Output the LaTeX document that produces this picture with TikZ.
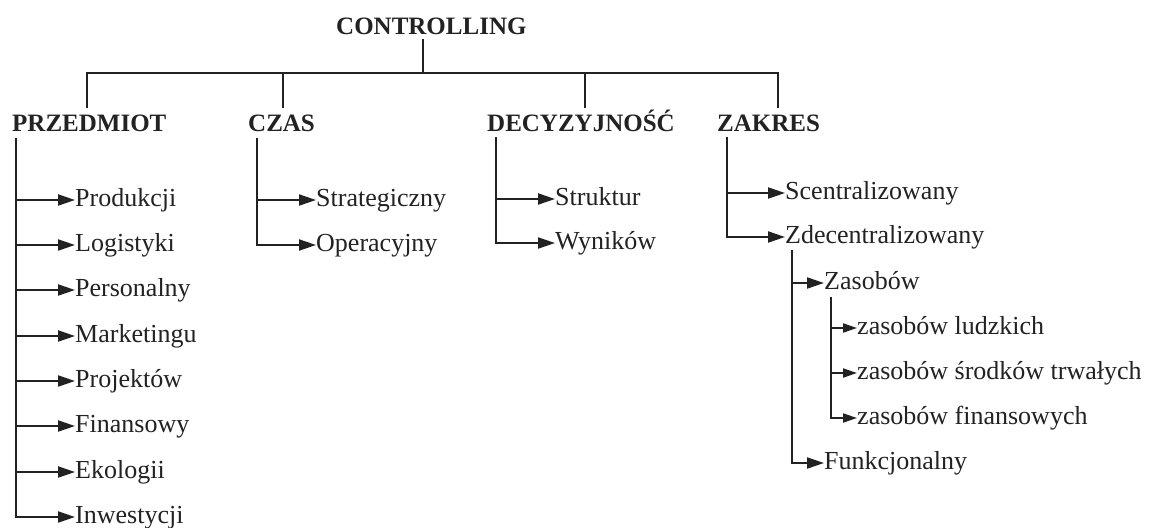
\documentclass[tikz,border=0pt]{standalone}
\usepackage{fontspec}
\setmainfont{Liberation Serif}
\usetikzlibrary{arrows.meta}
\definecolor{ink}{HTML}{222222}
\begin{document}
\begin{tikzpicture}[x=1pt,y=-1pt,
  line/.style={draw=ink, line width=2pt},
  arr/.style={line, -{Triangle[length=17pt,width=11pt]}},
  sarr/.style={line, -{Triangle[length=14pt,width=9pt]}},
  head/.style={font=\fontsize{25}{30}\selectfont\bfseries, text=ink, inner sep=0pt, anchor=base west},
  item/.style={font=\fontsize{26}{30}\selectfont, text=ink, inner sep=0pt, anchor=base west},
]
\fill[white] (0,0) rectangle (1150,527);
\useasboundingbox (0,0) rectangle (1150,527);

% headings
\node[head] (ctrl) at (336,35) {CONTROLLING};
\node[head] (prz) at (12,131) {PRZEDMIOT};
\node[head] (czas) at (248,131) {CZAS};
\node[head] (dec) at (487,131) {DECYZYJNOŚĆ};
\node[head] (zak) at (717,131) {ZAKRES};

% top bus
\coordinate (cstub) at (423,39);
\coordinate (bus) at (423,73);
\coordinate (sprz) at (87,108);
\coordinate (sczas) at (283,108);
\coordinate (sdec) at (585,108);
\coordinate (szak) at (778,108);
\draw[line] (cstub) -- (bus);
\draw[line] (sprz) |- (bus) -| (szak);
\draw[line] (sczas) -- (sczas |- bus);
\draw[line] (sdec) -- (sdec |- bus);

% items: baseline 6px below the arrow line
\foreach \n/\x/\y/\t in {
  p1/75/200/Produkcji, p2/75/245/Logistyki, p3/75/290/Personalny,
  p4/75/336/Marketingu, p5/75/381/Projektów, p6/75/426/Finansowy,
  p7/75/472/Ekologii, p8/75/517/Inwestycji,
  c1/316/200/Strategiczny, c2/316/245/Operacyjny,
  d1/555/199/Struktur, d2/555/243/Wyników,
  z1/785/193/Scentralizowany, z2/785/237/Zdecentralizowany,
  e1/824/283/Zasobów, e2/824/463/Funkcjonalny,
  r1/857/328/zasobów ludzkich, r2/857/373/zasobów środków trwałych,
  r3/857/418/zasobów finansowych}
{
  \node[item] (\n) at ([yshift=-6pt]\x,\y) {\t};
  \coordinate (\n tip) at ([yshift=6pt]\n.base west);
}

% spines
\coordinate (pv) at (16,138);
\coordinate (cv) at (257,138);
\coordinate (dv) at (496,137);
\coordinate (zv) at (727,137);
\coordinate (ev) at (792,250);
\coordinate (rv) at (831,297);

% PRZEDMIOT
\draw[arr] (pv) |- (p8tip);
\foreach \n in {p1,p2,p3,p4,p5,p6,p7}
  \draw[arr] (pv |- \n tip) -- (\n tip);
% CZAS
\draw[arr] (cv) |- (c2tip);
\draw[arr] (cv |- c1tip) -- (c1tip);
% DECYZYJNOSC
\draw[arr] (dv) |- (d2tip);
\draw[arr] (dv |- d1tip) -- (d1tip);
% ZAKRES
\draw[arr] (zv) |- (z2tip);
\draw[arr] (zv |- z1tip) -- (z1tip);
% Zdecentralizowany
\draw[arr] (ev) |- (e2tip);
\draw[arr] (ev |- e1tip) -- (e1tip);
% Zasobow
\draw[sarr] (rv) |- (r3tip);
\draw[sarr] (rv |- r1tip) -- (r1tip);
\draw[sarr] (rv |- r2tip) -- (r2tip);
\end{tikzpicture}
\end{document}
